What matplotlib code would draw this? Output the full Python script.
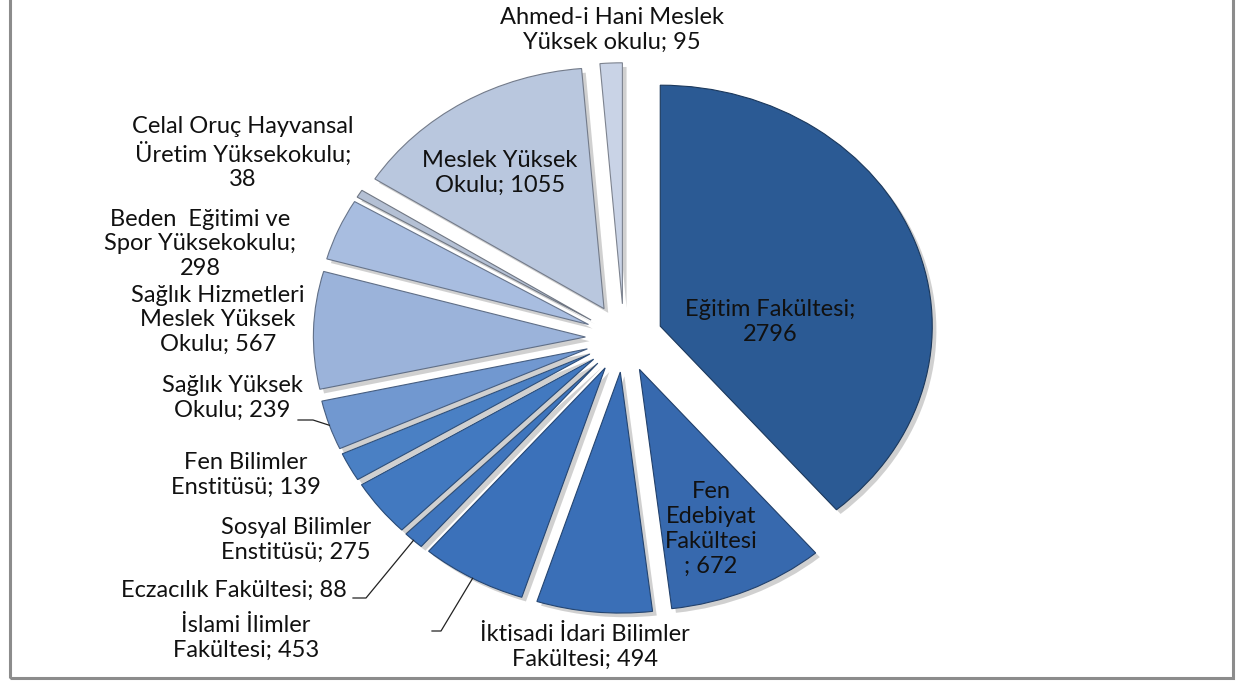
import numpy as np
import matplotlib.pyplot as plt
import matplotlib.patheffects as pe
from matplotlib.colors import to_rgb
from matplotlib.patches import Rectangle

plt.rcParams['font.family'] = ['Lato', 'DejaVu Sans']

# ---- data ----
units = ["Eğitim Fakültesi", "Fen Edebiyat Fakültesi", "İktisadi İdari Bilimler Fakültesi",
         "İslami İlimler Fakültesi", "Eczacılık Fakültesi", "Sosyal Bilimler Enstitüsü",
         "Fen Bilimler Enstitüsü", "Sağlık Yüksek Okulu", "Sağlık Hizmetleri Meslek Yüksek Okulu",
         "Beden Eğitimi ve Spor Yüksekokulu", "Celal Oruç Hayvansal Üretim Yüksekokulu",
         "Meslek Yüksek Okulu", "Ahmed-i Hani Meslek Yüksek okulu"]
students = [2796, 672, 494, 453, 88, 275, 139, 239, 567, 298, 38, 1055, 95]
label_texts = ["Eğitim Fakültesi;\n2796", "Fen\nEdebiyat\nFakültesi\n; 672",
               "İktisadi İdari Bilimler\nFakültesi; 494", "İslami İlimler\nFakültesi; 453",
               "Eczacılık Fakültesi; 88", "Sosyal Bilimler\nEnstitüsü; 275",
               "Fen Bilimler\nEnstitüsü; 139", "Sağlık Yüksek\nOkulu; 239",
               "Sağlık Hizmetleri\nMeslek Yüksek\nOkulu; 567", "Beden  Eğitimi ve\nSpor Yüksekokulu;\n298",
               "Celal Oruç Hayvansal\nÜretim Yüksekokulu;\n38", "Meslek Yüksek\nOkulu; 1055",
               "Ahmed-i Hani Meslek\nYüksek okulu; 95"]

colors = ["#2b5a94", "#3769ae", "#3a6fb7", "#3b71ba", "#3f75bd", "#4279c0", "#4a80c4",
          "#7198d0", "#9bb3da", "#a8bde0", "#b4c0d4", "#b9c7de", "#c9d3e6"]

# label centres in pixels (layout)
label_pos = [(770, 322), (711, 529), (585, 647), (246, 638), (234, 590), (296, 540),
             (246, 475), (232, 398), (218, 320), (200, 244), (243, 153), (500, 173), (612, 30)]
# leader lines: index -> (start, elbow) in pixels
leaders = {7: [(298, 420), (313, 420)],
           4: [(353, 598), (366, 598)],
           3: [(432, 631), (441, 631)]}

W, H = 1236, 682
CX, CY, RX, RY = 624, 338, 272, 241


def px(x, y):
    return (x - CX) / RX, (CY - y) / RY


fig = plt.figure(figsize=(W / 100, H / 100), dpi=100)
ax = fig.add_axes([0, 0, 1, 1])

wedges, _ = ax.pie(students, colors=colors, startangle=90, counterclock=False,
                   explode=[0.142] * len(students),
                   wedgeprops=dict(linewidth=0.8))
for w, c in zip(wedges, colors):
    w.set_edgecolor(tuple(0.62 * v for v in to_rgb(c)))
    w.set_path_effects([pe.SimplePatchShadow(offset=(3, -3), alpha=0.3, shadow_rgbFace="#666666"),
                        pe.Normal()])

ax.set_aspect('auto')
ax.set_xlim(px(0, 0)[0], px(W, 0)[0])
ax.set_ylim(px(0, H)[1], px(0, 0)[1])
ax.axis('off')

for txt, (lx, ly) in zip(label_texts, label_pos):
    x, y = px(lx, ly)
    ax.text(x, y, txt, ha='center', va='center', fontsize=17, color="#111111",
            linespacing=1.22)

for i, pts in leaders.items():
    w = wedges[i]
    mid = np.deg2rad((w.theta1 + w.theta2) / 2)
    ex = w.center[0] + w.r * np.cos(mid)
    ey = w.center[1] + w.r * np.sin(mid)
    xs = [px(*p)[0] for p in pts] + [ex]
    ys = [px(*p)[1] for p in pts] + [ey]
    ax.plot(xs, ys, color="#222222", lw=0.9)

fig.patches.append(Rectangle((10 / W, 1 - 678 / H), 1223 / W, 1.0, transform=fig.transFigure,
                             fill=False, edgecolor="#8c8c8c", linewidth=2.2))

fig.savefig("out.png", dpi=100, facecolor="white")
